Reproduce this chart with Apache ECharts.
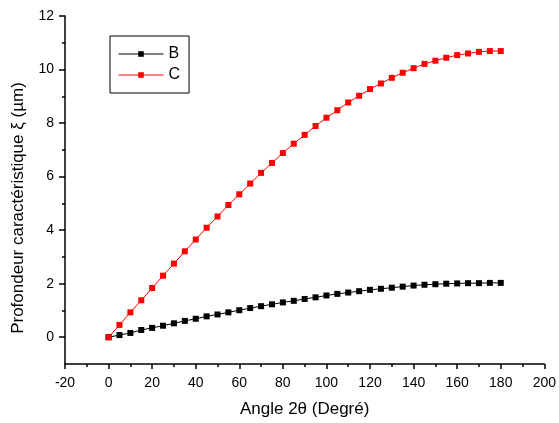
<!DOCTYPE html>
<html>
<head>
<meta charset="utf-8">
<script src="https://cdn.jsdelivr.net/npm/echarts@6/dist/echarts.min.js"></script>
<style>
html,body{margin:0;padding:0;background:#fff;}
#chart{width:559px;height:423px;}
</style>
</head>
<body>
<div id="chart"></div>
<script>
var angles = [0,5,10,15,20,25,30,35,40,45,50,55,60,65,70,75,80,85,90,95,100,105,110,115,120,125,130,135,140,145,150,155,160,165,170,175,180];
var seriesB = [0,0.08,0.16,0.27,0.35,0.43,0.52,0.61,0.69,0.78,0.85,0.93,1.01,1.09,1.16,1.23,1.30,1.36,1.43,1.49,1.56,1.62,1.67,1.72,1.77,1.81,1.85,1.89,1.93,1.96,1.98,2.00,2.01,2.02,2.02,2.03,2.03];
var seriesC = [0,0.46,0.93,1.38,1.84,2.30,2.75,3.21,3.65,4.09,4.51,4.94,5.34,5.74,6.14,6.51,6.88,7.23,7.56,7.89,8.20,8.48,8.77,9.02,9.27,9.48,9.69,9.88,10.05,10.21,10.33,10.44,10.54,10.60,10.66,10.69,10.69];
var yLabels = [0,2,4,6,8,10,12];
var yMinor = [1,3,5,7,9,11];

function pairs(vals){ return angles.map(function(a,i){ return [a, vals[i]]; }); }

var font = 'Arial, "Liberation Sans", sans-serif';
var chart = echarts.init(document.getElementById('chart'), null, {renderer:'canvas'});
chart.setOption({
  animation: false,
  backgroundColor: '#fff',
  grid: {left: 65, right: 11, top: 16, bottom: 55, containLabel: false},
  legend: {
    orient: 'vertical', left: 110, top: 36,
    borderColor: '#000', borderWidth: 1, padding: [10, 9, 10, 8],
    itemWidth: 45, itemHeight: 7, itemGap: 5,
    lineStyle: {width: 1},
    textStyle: {fontFamily: font, fontSize: 16, color: '#000', lineHeight: 16},
    data: ['B', 'C']
  },
  xAxis: {
    type: 'value', min: -20, max: 200, interval: 20,
    name: 'Angle 2θ (Degré)', nameLocation: 'middle', nameGap: 37,
    nameTextStyle: {fontFamily: font, fontSize: 17, color: '#000'},
    axisLine: {show: true, onZero: false, lineStyle: {color: '#000', width: 1.5}},
    axisTick: {show: true, length: 5, lineStyle: {color: '#000', width: 1.5}},
    minorTick: {show: true, splitNumber: 2, length: 3, lineStyle: {color: '#000', width: 1.5}},
    axisLabel: {fontFamily: font, fontSize: 14, color: '#000', margin: 12},
    splitLine: {show: false}
  },
  yAxis: [{
    type: 'value', min: -1, max: 12,
    name: 'Profondeur caractéristique ξ (µm)', nameLocation: 'middle', nameGap: 38,
    nameTextStyle: {fontFamily: font, fontSize: 17, color: '#000', padding: [0, 36, 0, 0]},
    axisLine: {show: true, onZero: false, lineStyle: {color: '#000', width: 1.5}},
    axisTick: {show: true, length: 6, customValues: yLabels, lineStyle: {color: '#000', width: 1.5}},
    axisLabel: {fontFamily: font, fontSize: 14, color: '#000', margin: 11, customValues: yLabels},
    splitLine: {show: false}
  }, {
    type: 'value', min: -1, max: 12, position: 'left', offset: 0,
    axisLine: {show: false, onZero: false},
    axisTick: {show: true, length: 3, customValues: yMinor, lineStyle: {color: '#000', width: 1.5}},
    axisLabel: {show: false},
    splitLine: {show: false}
  }],
  series: [{
    name: 'B', type: 'line', yAxisIndex: 0, data: pairs(seriesB),
    symbol: 'rect', symbolSize: 6, showAllSymbol: true,
    lineStyle: {color: '#000', width: 1}, itemStyle: {color: '#000'}
  }, {
    name: 'C', type: 'line', yAxisIndex: 0, data: pairs(seriesC),
    symbol: 'rect', symbolSize: 6, showAllSymbol: true,
    lineStyle: {color: '#ff0000', width: 1}, itemStyle: {color: '#ff0000'}
  }]
});
</script>
</body>
</html>
